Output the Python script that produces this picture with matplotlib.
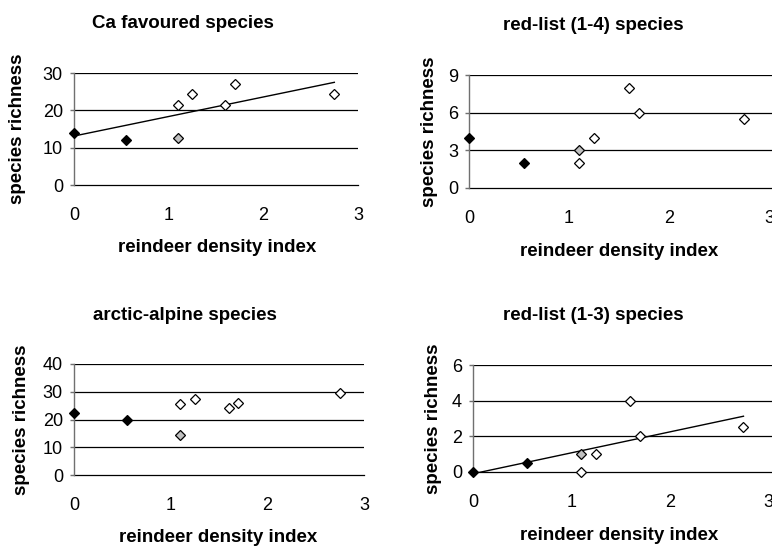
import numpy as np
import matplotlib
matplotlib.use("Agg")
import matplotlib.pyplot as plt

plt.rcParams['font.family'] = ['Liberation Sans', 'DejaVu Sans']

# shared x values (reindeer density index)
density = [0.0, 0.55, 1.1, 1.1, 1.25, 1.6, 1.7, 2.75]
# marker group for each site: 'k' black, 'g' gray, 'w' white
groups = ['k', 'k', 'g', 'w', 'w', 'w', 'w', 'w']

ca_favoured = [14, 12, 12.5, 21.5, 24.5, 21.5, 27, 24.5]
redlist_14 = [4, 2, 3, 2, 4, 8, 6, 5.5]
arctic_alpine = [22.5, 20, 14.5, 25.5, 27.5, 24, 26, 29.5]
redlist_13 = [0, 0.5, 1, 0, 1, 4, 2, 2.5]

titles = ["Ca favoured species", "red-list (1-4) species",
          "arctic-alpine species", "red-list (1-3) species"]
yticks = [[0, 10, 20, 30], [0, 3, 6, 9], [0, 10, 20, 30, 40], [0, 2, 4, 6]]
xticks = [0, 1, 2, 3]
trend = [True, False, False, True]
series = [ca_favoured, redlist_14, arctic_alpine, redlist_13]

W, H = 772, 547
# axes boxes in pixels: left, right, top, bottom, xmax
boxes = [(74, 358, 73, 185, 3.0),
         (469, 772, 75, 188, 3.03),
         (74, 364, 364, 475, 3.0),
         (473, 772, 365, 472, 3.04)]
title_pos = [(183, 23), (593, 25), (185, 316), (593, 316)]
xlabel_pos = [(217, 248), (619, 252), (218, 538), (619, 536)]
ylabel_x = [18, 429, 22, 433]

fig = plt.figure(figsize=(W / 100, H / 100), dpi=100)
fc = {'k': 'black', 'g': '#c0c0c0', 'w': 'white'}

for i in range(4):
    l, r, t, b, xmax = boxes[i]
    ax = fig.add_axes([l / W, 1 - b / H, (r - l) / W, (b - t) / H])
    y = series[i]
    ax.set_xlim(0, xmax)
    ax.set_ylim(yticks[i][0], yticks[i][-1])
    for v in yticks[i][1:]:
        ax.axhline(v, color='black', lw=0.9, zorder=1)
    for sp in ['top', 'right', 'bottom']:
        ax.spines[sp].set_visible(False)
    ax.axhline(yticks[i][0], color='black', lw=0.9, zorder=1, clip_on=False)
    ax.spines['left'].set_color('#707070')
    ax.spines['left'].set_linewidth(1.0)
    if trend[i]:
        c = np.polyfit(density, y, 1)
        xs = np.array([min(density), max(density)])
        ax.plot(xs, np.polyval(c, xs), color='black', lw=1.0, zorder=2)
    for g in ['w', 'g', 'k']:
        xx = [density[j] for j in range(len(y)) if groups[j] == g]
        yy = [y[j] for j in range(len(y)) if groups[j] == g]
        ax.plot(xx, yy, 'D', ms=5.2, mfc=fc[g], mec='black', mew=0.9,
                zorder=3, clip_on=False, ls='none')
    ax.set_xticks(xticks)
    ax.set_yticks(yticks[i])
    ax.tick_params(axis='both', labelsize=13)
    ax.tick_params(axis='x', length=0, pad=15.5)
    ax.tick_params(axis='y', length=3, width=1.0, color='#707070', pad=5)
    tx, ty = title_pos[i]
    fig.text(tx / W, 1 - ty / H, titles[i], ha='center', va='center',
             fontsize=13.5, fontweight='bold')
    lx, ly = xlabel_pos[i]
    fig.text(lx / W, 1 - ly / H, "reindeer density index", ha='center',
             va='center', fontsize=13.5, fontweight='bold')
    fig.text(ylabel_x[i] / W, 1 - ((t + b) / 2) / H, "species richness",
             ha='center', va='center', rotation=90, fontsize=13.5,
             fontweight='bold')

fig.savefig("out.png", dpi=100)
